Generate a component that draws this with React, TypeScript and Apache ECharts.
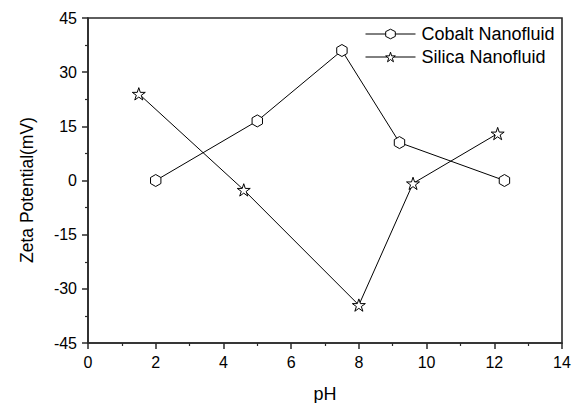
import React, { useEffect, useRef } from "react";
import * as echarts from "echarts";

// pH values and zeta potentials (mV) for the two nanofluids
const cobaltPH = [2, 5, 7.5, 9.2, 12.3];
const cobaltZeta = [0, 16.5, 36, 10.5, 0];
const silicaPH = [1.5, 4.6, 8, 9.6, 12.1];
const silicaZeta = [24, -2.6, -34.5, -0.8, 13];

const seriesNames = ["Cobalt Nanofluid", "Silica Nanofluid"];
const xTitle = "pH";
const yTitle = "Zeta Potential(mV)";

const HEXAGON =
  "path://M0,-1 L0.866,-0.5 L0.866,0.5 L0,1 L-0.866,0.5 L-0.866,-0.5 Z";
const STAR =
  "path://M0,-1 L0.2245,-0.309 L0.951,-0.309 L0.363,0.118 L0.588,0.809 L0,0.382 L-0.588,0.809 L-0.363,0.118 L-0.951,-0.309 L-0.2245,-0.309 Z";

const FONT = "'Liberation Sans', Arial, sans-serif";
const AXIS_COLOR = "#2a2a2a";

export default function App() {
  const ref = useRef<HTMLDivElement>(null);

  useEffect(() => {
    document.body.style.margin = "0";
    if (!ref.current) return;
    const chart = echarts.init(ref.current, undefined, { renderer: "svg" });

    const pair = (xs: number[], ys: number[]) => xs.map((x, i) => [x, ys[i]]);

    const axisCommon = {
      axisLine: { show: true, onZero: false, lineStyle: { color: AXIS_COLOR, width: 1.6 } },
      axisTick: { show: true, inside: false, length: 6, lineStyle: { color: AXIS_COLOR, width: 1.5 } },
      minorTick: { show: true, splitNumber: 2, length: 3, lineStyle: { color: AXIS_COLOR, width: 1.2 } },
      splitLine: { show: false },
      axisLabel: { color: "#000", fontSize: 16, fontFamily: FONT, margin: 11 },
      nameTextStyle: { color: "#000", fontSize: 18, fontFamily: FONT },
    };

    chart.setOption({
      animation: false,
      backgroundColor: "#fff",
      grid: {
        left: 88,
        right: 15,
        top: 18,
        bottom: 60,
        outerBoundsMode: "none",
        containLabel: false,
        show: true,
        borderColor: AXIS_COLOR,
        borderWidth: 1.6,
        backgroundColor: "transparent",
      },
      // vertical axis title, set a little below the plot's middle
      graphic: [
        {
          type: "text",
          x: 27,
          y: 190,
          rotation: Math.PI / 2,
          style: {
            text: yTitle,
            fill: "#000",
            font: `17.5px ${FONT}`,
            align: "center",
            verticalAlign: "middle",
          },
        },
      ],
      legend: {
        orient: "vertical",
        left: 365,
        top: 25,
        padding: 0,
        itemWidth: 50,
        itemHeight: 12,
        itemGap: 5,
        textStyle: { color: "#000", fontSize: 18, fontFamily: FONT, padding: [0, 0, 0, 1] },
        lineStyle: { color: "#000", width: 1 },
        itemStyle: { color: "#fff", borderColor: "#000", borderWidth: 1 },
        data: seriesNames,
      },
      xAxis: {
        type: "value",
        min: 0,
        max: 14,
        interval: 2,
        name: xTitle,
        nameLocation: "middle",
        nameGap: 42,
        ...axisCommon,
      },
      yAxis: {
        type: "value",
        min: -45,
        max: 45,
        interval: 15,
        ...axisCommon,
      },
      series: [
        {
          name: seriesNames[0],
          type: "line",
          data: pair(cobaltPH, cobaltZeta),
          symbol: HEXAGON,
          symbolSize: 12,
          symbolKeepAspect: true,
          lineStyle: { color: "#000", width: 1 },
          itemStyle: { color: "#fff", borderColor: "#000", borderWidth: 1 },
        },
        {
          name: seriesNames[1],
          type: "line",
          data: pair(silicaPH, silicaZeta),
          symbol: STAR,
          symbolSize: 13,
          symbolKeepAspect: true,
          lineStyle: { color: "#000", width: 1 },
          itemStyle: { color: "#fff", borderColor: "#000", borderWidth: 1 },
        },
      ],
    });

    return () => chart.dispose();
  }, []);

  return <div ref={ref} style={{ width: 577, height: 403 }} />;
}
